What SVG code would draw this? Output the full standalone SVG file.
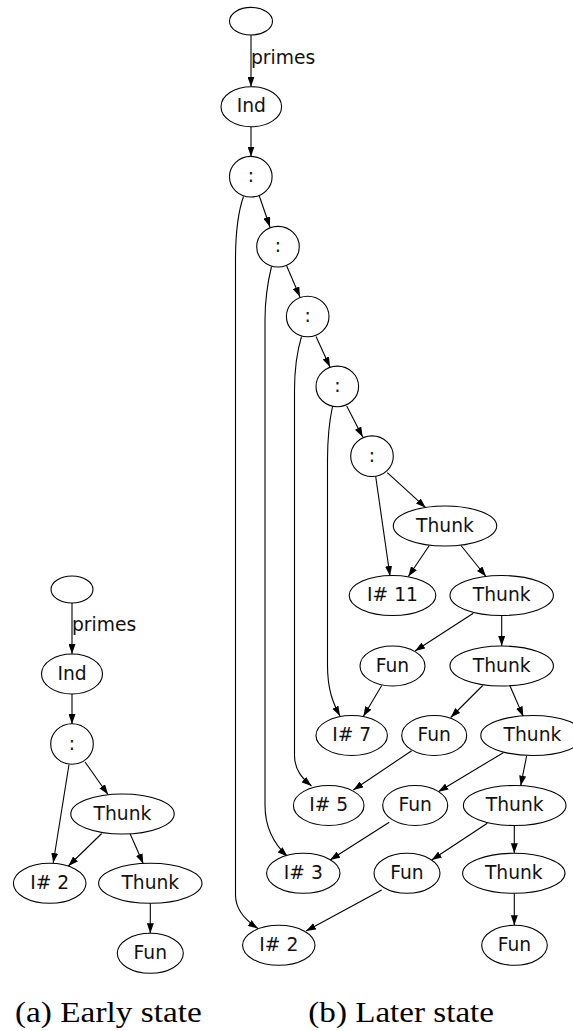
<svg xmlns="http://www.w3.org/2000/svg" width="573" height="1031" viewBox="0 0 573 1031">
<style>
.n ellipse{fill:#fff;stroke:#000;stroke-width:1.1}
.n text{font-family:"DejaVu Sans",sans-serif;font-size:18.7px;fill:#111;text-anchor:middle}
.e path{fill:none;stroke:#000;stroke-width:1.1;marker-end:url(#ah)}
.lbl{font-family:"DejaVu Sans",sans-serif;font-size:18.7px;fill:#111}
.cap{font-family:"Liberation Serif","Times New Roman",serif;font-size:29px;fill:#000}
</style>
<defs>
<marker id="ah" markerWidth="10" markerHeight="7" refX="10" refY="3.5" orient="auto" markerUnits="userSpaceOnUse">
<path d="M0,0 L10,3.5 L0,7 z" fill="#000"/>
</marker>
</defs>
<rect width="573" height="1031" fill="#fff"/>
<g id="connectors" class="e">
<path d="M72,603 L72,654"/>
<path d="M72,694 L72,724"/>
<path d="M69,764.5 L53.2,863"/>
<path d="M85,762 L108,794.5"/>
<path d="M101.7,833.5 L68.3,866"/>
<path d="M130,833.5 L143.3,863.7"/>
<path d="M150.3,903.3 L150.3,933.3"/>
<path d="M251,35 L251,86.7"/>
<path d="M251,126.7 L251,156.5"/>
<path d="M259.3,196 L270,227"/>
<path d="M286.7,266 L300,297"/>
<path d="M316,336.5 L330,367"/>
<path d="M346.7,406 L362.7,437"/>
<path d="M387.3,472.7 L425.7,507.7"/>
<path d="M375.7,476.5 L390,576"/>
<path d="M429.3,545.5 L408.3,576.5"/>
<path d="M461,545.5 L486,576.5"/>
<path d="M473.3,613.3 L415,651"/>
<path d="M501.7,615.5 L501.7,646"/>
<path d="M381.7,685.5 L363.3,716.5"/>
<path d="M482.7,685.5 L450.7,717.5"/>
<path d="M510,686 L523.3,716.5"/>
<path d="M411.7,750.7 L353.3,790"/>
<path d="M503.3,752.7 L438.3,791.7"/>
<path d="M526.7,755.5 L520.7,785.7"/>
<path d="M389.3,822.3 L330,860"/>
<path d="M487.3,823.3 L431.7,860"/>
<path d="M514.3,825.5 L514.3,853.3"/>
<path d="M381.7,890 L306,931"/>
<path d="M514.3,893.3 L514.3,925.3"/>
<path d="M243.5,196.5 C237,215 235.5,235 235.5,260 L235.5,895 C235.5,910 245,920 258,928.5"/>
<path d="M271.5,266.5 C267,285 265,300 265,320 L265,805 C265,830 275,845 287.5,856.5"/>
<path d="M301.5,336.5 C296,355 294.5,370 294.5,390 L294.5,755 C294.5,770 302,778 311.5,786"/>
<path d="M332.5,406.5 C328.5,425 327.5,440 327.5,460 L327.5,665 C327.5,690 333,703 340,716"/>
</g>
<text class="lbl" x="72" y="631">primes</text>
<text class="lbl" x="251" y="64">primes</text>
<g id="a_root" class="n"><ellipse cx="72" cy="589.5" rx="21" ry="13.5"/></g>
<g id="a_ind" class="n"><ellipse cx="72" cy="674" rx="30.5" ry="20"/><text x="72" y="679.7">Ind</text></g>
<g id="a_cons" class="n"><ellipse cx="72" cy="744" rx="21.3" ry="20.3"/><text x="72" y="749.7">:</text></g>
<g id="a_thunk1" class="n"><ellipse cx="122.5" cy="814" rx="51.7" ry="20"/><text x="122.5" y="819.7">Thunk</text></g>
<g id="a_i2" class="n"><ellipse cx="49.7" cy="883.3" rx="36.3" ry="20"/><text x="49.7" y="889">I# 2</text></g>
<g id="a_thunk2" class="n"><ellipse cx="150.3" cy="883.3" rx="51.7" ry="20"/><text x="150.3" y="889">Thunk</text></g>
<g id="a_fun" class="n"><ellipse cx="150.3" cy="953.3" rx="33" ry="20"/><text x="150.3" y="959">Fun</text></g>
<g id="b_root" class="n"><ellipse cx="251" cy="21.2" rx="21.5" ry="13.8"/></g>
<g id="b_ind" class="n"><ellipse cx="251.3" cy="106.7" rx="30.3" ry="20"/><text x="251.3" y="112.4">Ind</text></g>
<g id="b_c1" class="n"><ellipse cx="250.8" cy="176.7" rx="21.3" ry="20.3"/><text x="250.8" y="182.4">:</text></g>
<g id="b_c2" class="n"><ellipse cx="278" cy="246.7" rx="21.3" ry="20.3"/><text x="278" y="252.4">:</text></g>
<g id="b_c3" class="n"><ellipse cx="307.7" cy="316.5" rx="21.3" ry="20.3"/><text x="307.7" y="322.2">:</text></g>
<g id="b_c4" class="n"><ellipse cx="337.3" cy="386.4" rx="21.3" ry="20.3"/><text x="337.3" y="392.1">:</text></g>
<g id="b_c5" class="n"><ellipse cx="372" cy="456.2" rx="21.3" ry="20.3"/><text x="372" y="461.9">:</text></g>
<g id="b_t1" class="n"><ellipse cx="445" cy="526" rx="51.7" ry="20"/><text x="445" y="531.7">Thunk</text></g>
<g id="b_i11" class="n"><ellipse cx="392.5" cy="595.5" rx="43.3" ry="20"/><text x="392.5" y="601.2">I# 11</text></g>
<g id="b_t2" class="n"><ellipse cx="501.7" cy="595.5" rx="51.7" ry="20"/><text x="501.7" y="601.2">Thunk</text></g>
<g id="b_f1" class="n"><ellipse cx="392.5" cy="666" rx="32.5" ry="20"/><text x="392.5" y="671.7">Fun</text></g>
<g id="b_t3" class="n"><ellipse cx="501.7" cy="666" rx="51.7" ry="20"/><text x="501.7" y="671.7">Thunk</text></g>
<g id="b_i7" class="n"><ellipse cx="351.7" cy="735.5" rx="35.7" ry="20"/><text x="351.7" y="741.2">I# 7</text></g>
<g id="b_f2" class="n"><ellipse cx="434.2" cy="735.5" rx="32.5" ry="20"/><text x="434.2" y="741.2">Fun</text></g>
<g id="b_t4" class="n"><ellipse cx="532.5" cy="735.5" rx="51.7" ry="20"/><text x="532.5" y="741.2">Thunk</text></g>
<g id="b_i5" class="n"><ellipse cx="328.7" cy="805.5" rx="35.3" ry="20"/><text x="328.7" y="811.2">I# 5</text></g>
<g id="b_f3" class="n"><ellipse cx="415.2" cy="805.5" rx="32.5" ry="20"/><text x="415.2" y="811.2">Fun</text></g>
<g id="b_t5" class="n"><ellipse cx="514.7" cy="805.5" rx="51.3" ry="20"/><text x="514.7" y="811.2">Thunk</text></g>
<g id="b_i3" class="n"><ellipse cx="303.3" cy="873.3" rx="36.7" ry="20"/><text x="303.3" y="879">I# 3</text></g>
<g id="b_f4" class="n"><ellipse cx="407" cy="873.3" rx="33" ry="20"/><text x="407" y="879">Fun</text></g>
<g id="b_t6" class="n"><ellipse cx="513.8" cy="873.3" rx="51.2" ry="20"/><text x="513.8" y="879">Thunk</text></g>
<g id="b_i2" class="n"><ellipse cx="278.8" cy="945.3" rx="36.2" ry="20"/><text x="278.8" y="951">I# 2</text></g>
<g id="b_f5" class="n"><ellipse cx="514.5" cy="945.3" rx="32.8" ry="20"/><text x="514.5" y="951">Fun</text></g>
<text class="cap" x="15" y="1021.7" textLength="186.7" lengthAdjust="spacingAndGlyphs">(a) Early state</text>
<text class="cap" x="308.3" y="1021.7" textLength="185.7" lengthAdjust="spacingAndGlyphs">(b) Later state</text>
</svg>
